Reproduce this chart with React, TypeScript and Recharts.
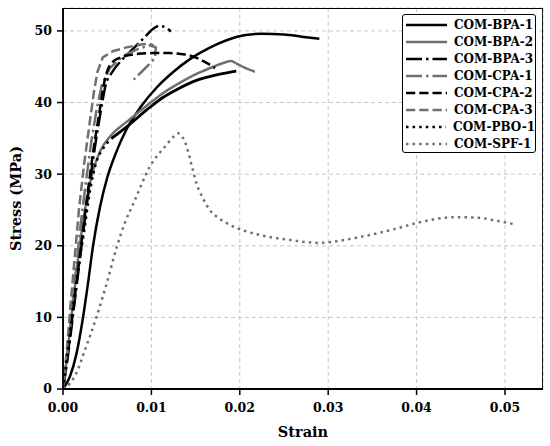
import React from 'react';
import { LineChart, Line, XAxis, YAxis, CartesianGrid, Legend, Label, ReferenceArea } from 'recharts';

const STRAIN_TICKS = [0, 0.01, 0.02, 0.03, 0.04, 0.05];
const STRESS_TICKS = [0, 10, 20, 30, 40, 50];

const BPA1 = [[0,0],[0.0008,1.8],[0.0015,4.8],[0.0022,9.5],[0.0028,14.5],[0.0034,20],[0.0042,25.5],[0.005,29.5],[0.006,33],[0.0072,36.3],[0.0088,39.4],[0.0106,42.1],[0.0125,44.3],[0.0144,46.1],[0.0165,47.6],[0.0185,48.7],[0.0205,49.4],[0.0225,49.6],[0.025,49.5],[0.027,49.2],[0.029,48.9]];
const BPA2 = [[0,0],[0.0004,4],[0.0009,9.5],[0.0014,15],[0.002,21],[0.0027,26.5],[0.0034,30.5],[0.0042,33.2],[0.0055,35.5],[0.0072,37.3],[0.0095,39.6],[0.0113,41.3],[0.013,42.6],[0.0151,44.0],[0.017,45.0],[0.0183,45.6],[0.019,45.8],[0.0197,45.4],[0.0205,44.9],[0.0217,44.3]];
const BPA3 = [[0,0],[0.0006,5],[0.0011,10],[0.0017,16],[0.0023,22],[0.003,28.5],[0.0037,34.5],[0.0043,39],[0.0048,42.3],[0.0056,44.3],[0.0067,46],[0.008,47.6],[0.0093,49.2],[0.0102,50.3],[0.0109,50.7],[0.0116,50.5],[0.0122,49.9]];
const CPA1 = [[0,0],[0.0005,5],[0.001,11],[0.0015,17],[0.002,23],[0.0026,29],[0.0032,34.5],[0.0038,39],[0.0044,42.5],[0.0053,44.8],[0.0068,46.5],[0.0085,47.5],[0.0098,48],[0.0105,47.7],[0.0104,46.2],[0.0098,45.4],[0.0089,44.3],[0.008,43.2]];
const CPA2 = [[0,0],[0.0005,4.5],[0.001,9.5],[0.0016,15.5],[0.0022,21.5],[0.0028,27.5],[0.0034,33],[0.0041,38.5],[0.0047,43],[0.0053,45.2],[0.0065,46.3],[0.0085,46.8],[0.0102,46.9],[0.012,46.9],[0.0138,46.7],[0.0152,46.2],[0.0163,45.5],[0.0172,44.8]];
const CPA3 = [[0,0],[0.0004,5],[0.0008,11],[0.0013,18],[0.0018,25],[0.0024,31.5],[0.003,37],[0.0035,41.5],[0.0039,44.3],[0.0045,46.3],[0.0057,47.2],[0.0072,47.7],[0.0088,48.1],[0.0098,48.2],[0.0103,47.9]];
const PBO1 = [[0,0],[0.0005,5],[0.001,10],[0.0016,16],[0.0023,21.3],[0.0031,28],[0.0038,31.8],[0.0045,33.5],[0.0055,35],[0.0072,36.6],[0.0095,39],[0.0113,40.7],[0.013,41.9],[0.0151,43.1],[0.0175,43.9],[0.0196,44.4]];
const SPF1 = [[0,0],[0.0008,0.8],[0.0015,2.2],[0.0025,5.5],[0.0038,10.1],[0.005,15],[0.0061,19.9],[0.007,23.2],[0.008,26],[0.0098,31],[0.0115,33.8],[0.0125,35.2],[0.013,35.7],[0.0135,35.2],[0.014,33.8],[0.0146,31],[0.0151,28.7],[0.0158,26.7],[0.0166,25],[0.0177,23.8],[0.0189,22.9],[0.0205,22.1],[0.0223,21.5],[0.0257,20.8],[0.029,20.4],[0.0313,20.7],[0.0335,21.2],[0.0358,21.8],[0.038,22.5],[0.0404,23.3],[0.0425,23.8],[0.0443,24],[0.0471,23.9],[0.049,23.5],[0.0511,23]];

// strain beyond which the noisy PBO-1 record renders as an almost continuous trace
const PBO1_DENSE_FROM = 0.0055;

const BLACK = '#000000';
const GRAY = '#707070';
const DASHED = '9.25 4';
const DASHDOT = '16 4 2.5 4';
const DOTTED = '2.5 4.1';

const SERIES = [
  { name: 'COM-BPA-1', pts: BPA1, color: BLACK, dash: undefined, type: 'monotone' },
  { name: 'COM-BPA-2', pts: BPA2, color: GRAY, dash: undefined, type: 'monotone' },
  { name: 'COM-BPA-3', pts: BPA3, color: BLACK, dash: DASHDOT, type: 'monotone' },
  { name: 'COM-CPA-1', pts: CPA1, color: GRAY, dash: DASHDOT, type: 'linear' },
  { name: 'COM-CPA-2', pts: CPA2, color: BLACK, dash: DASHED, type: 'monotone' },
  { name: 'COM-CPA-3', pts: CPA3, color: GRAY, dash: DASHED, type: 'linear' },
  { name: 'COM-PBO-1', pts: PBO1, color: BLACK, dash: DOTTED, type: 'monotone' },
  { name: 'COM-SPF-1', pts: SPF1, color: GRAY, dash: DOTTED, type: 'monotone' },
];

const X_MAX = 0.0543;
const Y_MAX = 53.2;
const FONT = '"DejaVu Serif", serif';

const tickStyle = { fill: '#000', fontSize: 12.5, fontWeight: 'bold', fontFamily: FONT };

const LegendBox = () => (
  <div style={{
    border: '1px solid #000', borderRadius: 3, background: '#fff',
    paddingTop: 1.5, paddingLeft: 3, boxSizing: 'border-box', width: 134, height: 139,
  }}>
    {SERIES.map((s) => (
      <div key={s.name} style={{ height: 17, display: 'flex', alignItems: 'center' }}>
        <svg width={41} height={10} style={{ display: 'block' }}>
          <line x1={0} y1={5} x2={41} y2={5} stroke={s.color} strokeWidth={2.6} strokeDasharray={s.dash} />
        </svg>
        <span style={{ marginLeft: 7, fontFamily: FONT, fontWeight: 'bold', fontSize: 12, color: '#000', lineHeight: '17px', whiteSpace: 'nowrap' }}>{s.name}</span>
      </div>
    ))}
  </div>
);

const toXY = (pts: number[][]) => pts.map(([x, y]) => ({ x, y }));

export default function App() {
  return (
    <div style={{ position: 'absolute', left: 0, top: 0, width: 550, height: 446, background: '#fff' }}>
      <LineChart width={550} height={446} margin={{ top: 8, right: 7, bottom: 0, left: 0 }}>
        <CartesianGrid stroke="#c8c8c8" strokeDasharray="4 3" strokeWidth={1} />
        <XAxis
          type="number"
          dataKey="x"
          domain={[0, X_MAX]}
          ticks={STRAIN_TICKS}
          allowDataOverflow
          tickFormatter={(v) => v.toFixed(2)}
          tick={tickStyle}
          tickSize={6}
          tickMargin={8}
          height={57}
          axisLine={{ stroke: '#000', strokeWidth: 1.8 }}
          tickLine={{ stroke: '#000', strokeWidth: 1.5 }}
        >
          <Label value="Strain" position="insideBottom" offset={9} style={{ fill: '#000', fontSize: 14.5, fontWeight: 'bold', fontFamily: FONT }} />
        </XAxis>
        <YAxis
          type="number"
          dataKey="y"
          domain={[0, Y_MAX]}
          ticks={STRESS_TICKS}
          allowDataOverflow
          tick={tickStyle}
          tickSize={6}
          tickMargin={5}
          width={63}
          axisLine={{ stroke: '#000', strokeWidth: 1.8 }}
          tickLine={{ stroke: '#000', strokeWidth: 1.5 }}
        >
          <Label
            content={(props: any) => {
              const vb = props.viewBox || { x: 0, y: 8, width: 63, height: 381 };
              const cx = vb.x + 15;
              const cy = vb.y + vb.height / 2;
              return (
                <text x={cx} y={cy} transform={`rotate(-90 ${cx} ${cy})`} textAnchor="middle" dominantBaseline="central"
                  style={{ fill: '#000', fontSize: 14.5, fontWeight: 'bold', fontFamily: FONT }}>
                  Stress (MPa)
                </text>
              );
            }}
          />
        </YAxis>
        <ReferenceArea x1={0} x2={X_MAX} y1={0} y2={Y_MAX} fill="none" stroke="#000" strokeWidth={1.8} ifOverflow="hidden" />
        {SERIES.map((s) => {
          if (s.pts === PBO1) {
            return [
              <Line
                key={s.name}
                name={s.name}
                data={toXY(PBO1.filter(([x]) => x <= PBO1_DENSE_FROM))}
                dataKey="y"
                type="monotone"
                stroke={s.color}
                strokeWidth={2.5}
                strokeDasharray={s.dash}
                dot={false}
                activeDot={false}
                isAnimationActive={false}
              />,
              <Line
                key={s.name + '-dense'}
                name={s.name + ' '}
                legendType="none"
                data={toXY(PBO1.filter(([x]) => x >= PBO1_DENSE_FROM))}
                dataKey="y"
                type="monotone"
                stroke={s.color}
                strokeWidth={2.8}
                dot={false}
                activeDot={false}
                isAnimationActive={false}
              />,
            ];
          }
          return (
            <Line
              key={s.name}
              name={s.name}
              data={toXY(s.pts)}
              dataKey="y"
              type={s.type as any}
              stroke={s.color}
              strokeWidth={2.5}
              strokeDasharray={s.dash}
              dot={false}
              activeDot={false}
              isAnimationActive={false}
            />
          );
        })}
        <Legend
          layout="vertical"
          align="center"
          verticalAlign="middle"
          content={() => <LegendBox />}
          wrapperStyle={{ position: 'absolute', left: 402, top: 14, width: 134, height: 139 }}
        />
      </LineChart>
    </div>
  );
}
